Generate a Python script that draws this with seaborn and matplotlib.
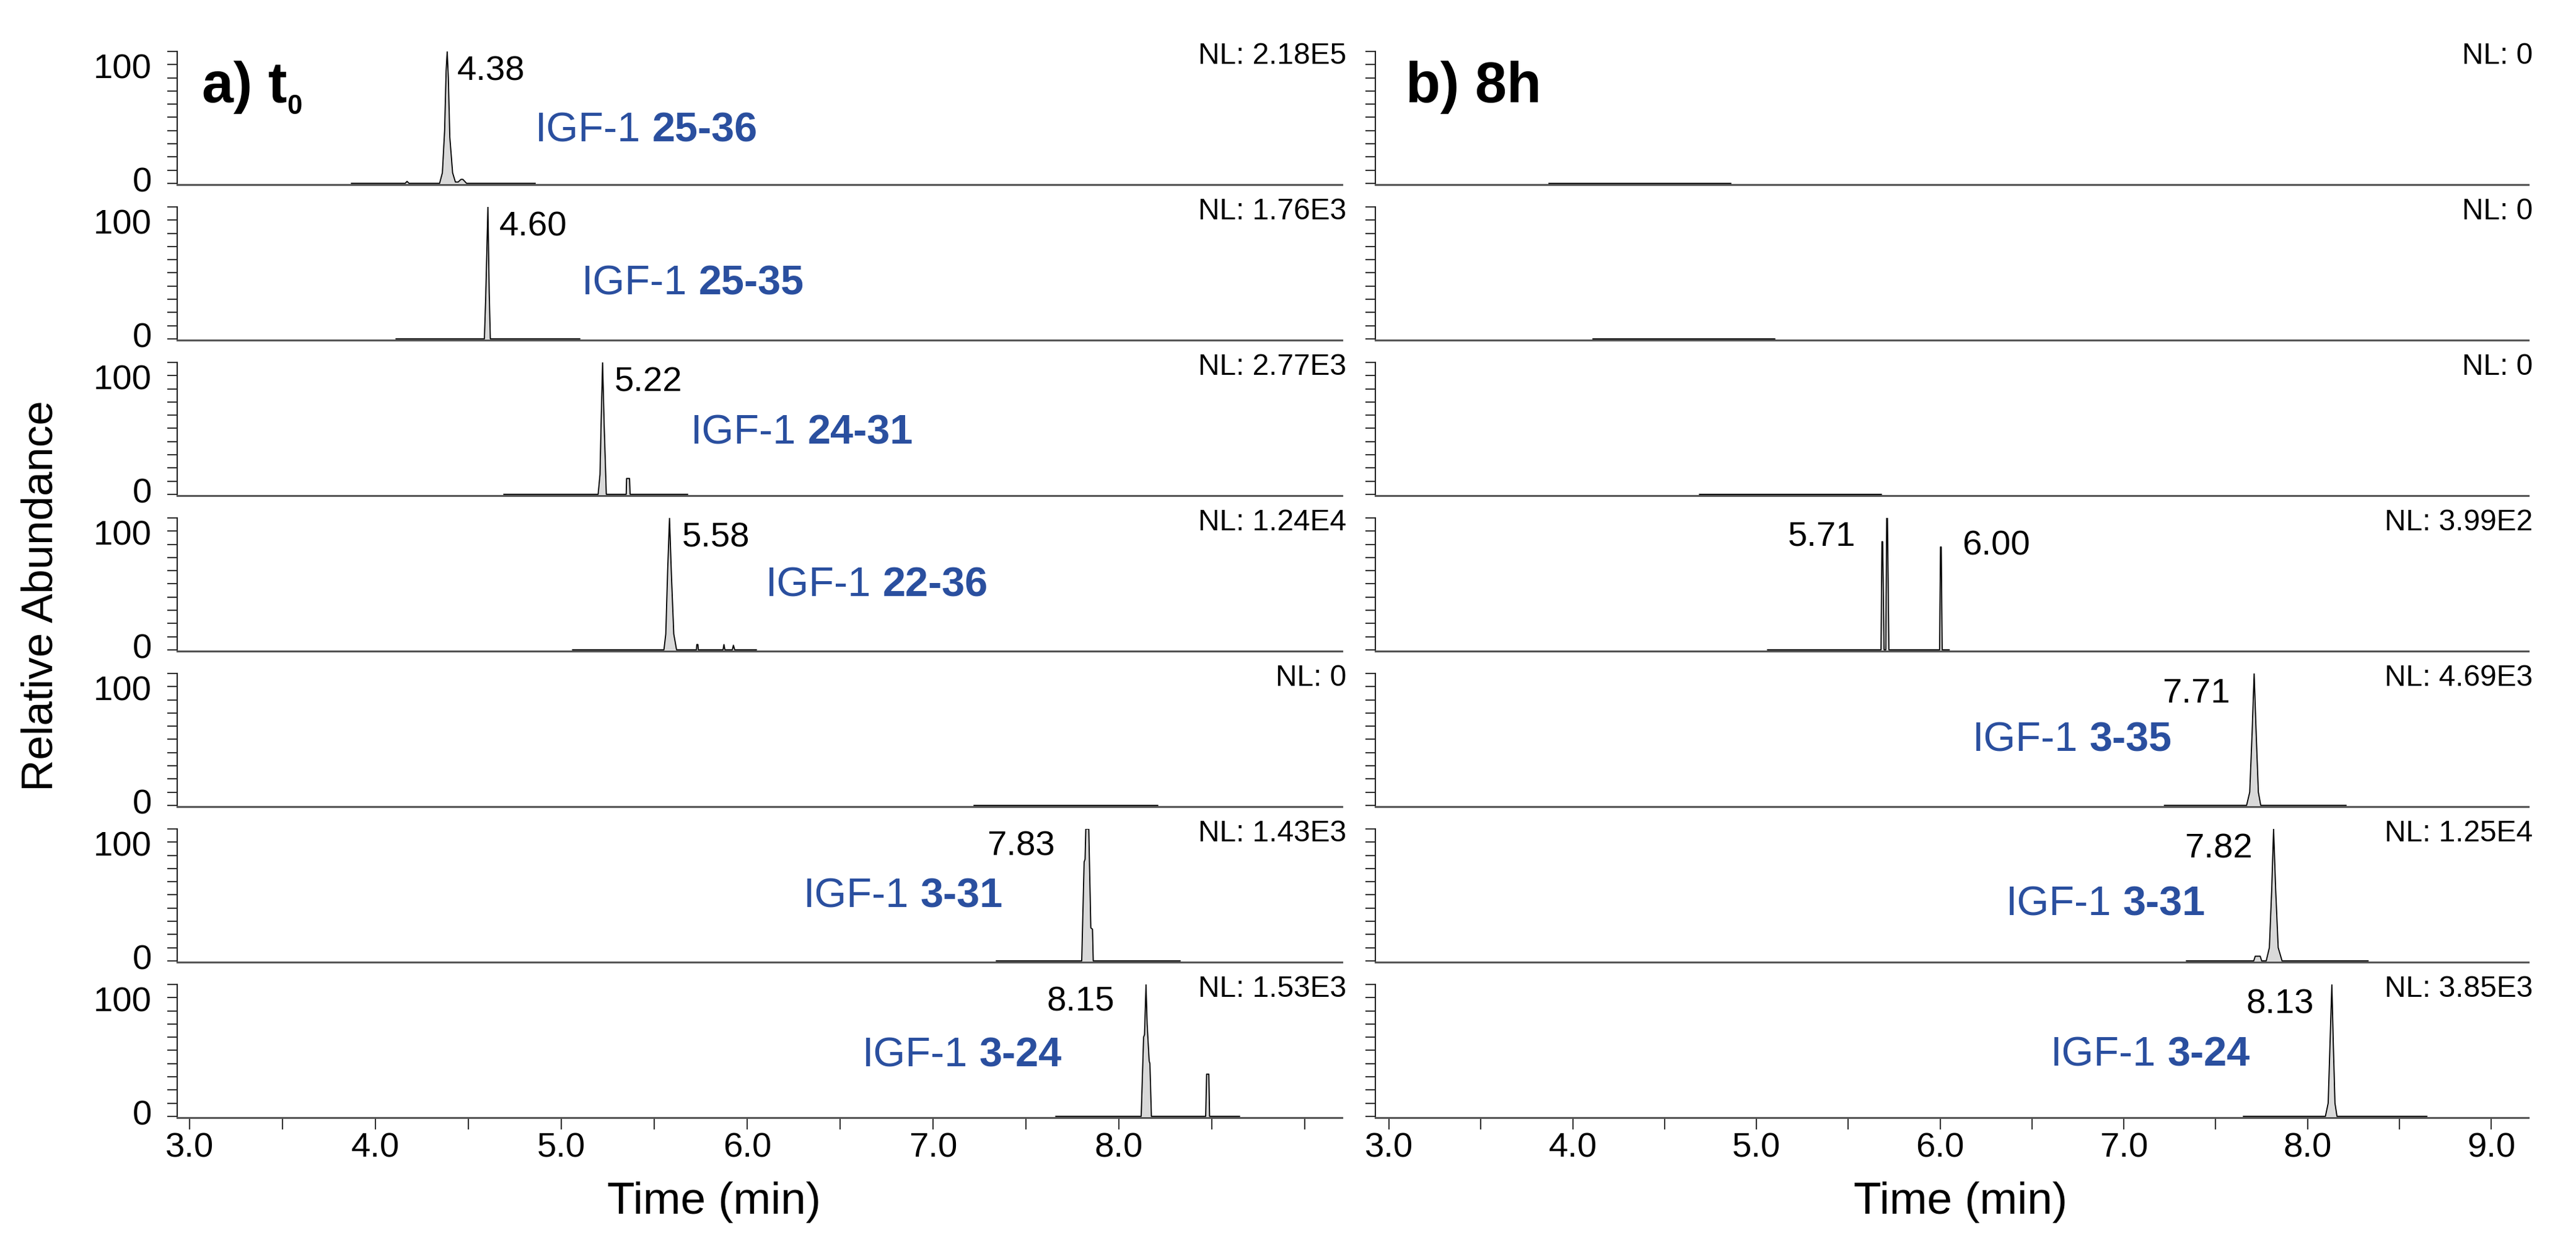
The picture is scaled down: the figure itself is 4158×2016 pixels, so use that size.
import pandas as pd
import seaborn as sns
import matplotlib.pyplot as plt
from matplotlib.ticker import MultipleLocator, FixedLocator, NullLocator, FormatStrFormatter

# Chromatogram traces: retention time (min) and relative abundance (%)
t0_time = [
    [3.87, 4.16, 4.17, 4.18, 4.345, 4.36, 4.372, 4.38, 4.386, 4.392, 4.40, 4.415, 4.43, 4.445, 4.46, 4.47, 4.49, 4.86],
    [4.11, 4.586, 4.593, 4.605, 4.612, 4.618, 5.10],
    [4.69, 5.198, 5.208, 5.215, 5.222, 5.23, 5.242, 5.349, 5.351, 5.367, 5.37, 5.68],
    [5.06, 5.552, 5.562, 5.572, 5.582, 5.592, 5.605, 5.62, 5.727, 5.729, 5.735, 5.737,
     5.87, 5.875, 5.88, 5.92, 5.926, 5.933, 6.05],
    [7.22, 8.21],
    [7.34, 7.80, 7.813, 7.818, 7.822, 7.838, 7.849, 7.858, 7.862, 8.33],
    [7.66, 8.120, 8.133, 8.138, 8.146, 8.152, 8.163, 8.167, 8.175, 8.467, 8.472, 8.484, 8.488, 8.65],
]
t0_abund = [
    [0, 0, 1.5, 0, 0, 8, 40, 85, 100, 80, 35, 8, 1, 1, 3, 3, 0, 0],
    [0, 0, 31, 100, 35, 0, 0],
    [0, 0, 15, 60, 100, 55, 0, 0, 12, 12, 0, 0],
    [0, 0, 12, 60, 100, 58, 12, 0, 0, 4, 4, 0, 0, 4, 0, 0, 3.5, 0, 0],
    [0, 0],
    [0, 0, 75, 77, 100, 100, 25, 24, 0, 0],
    [0, 0, 60, 62, 100, 70, 42, 40, 0, 0, 32, 32, 0, 0],
]
h8_time = [
    [3.87, 4.86],
    [4.11, 5.10],
    [4.69, 5.68],
    [5.06, 5.678, 5.683, 5.687, 5.695, 5.704, 5.709, 5.713, 5.721, 5.997, 6.002, 6.006, 6.011, 6.05],
    [7.22, 7.668, 7.685, 7.698, 7.709, 7.72, 7.732, 7.745, 8.21],
    [7.34, 7.707, 7.715, 7.742, 7.75, 7.775, 7.792, 7.805, 7.815, 7.826, 7.84, 7.861, 8.33],
    [7.65, 8.097, 8.112, 8.122, 8.132, 8.14, 8.149, 8.16, 8.65],
]
h8_abund = [
    [0, 0],
    [0, 0],
    [0, 0],
    [0, 0, 82, 82, 0, 0, 100, 100, 0, 0, 78, 78, 0, 0],
    [0, 0, 10, 55, 100, 55, 10, 0, 0],
    [0, 0, 3.5, 3.5, 0, 0, 10, 55, 100, 55, 10, 0, 0],
    [0, 0, 10, 55, 100, 55, 10, 0, 0],
]

# normalisation levels and fragment names
t0_nl = ["2.18E5", "1.76E3", "2.77E3", "1.24E4", "0", "1.43E3", "1.53E3"]
h8_nl = ["0", "0", "0", "3.99E2", "4.69E3", "1.25E4", "3.85E3"]
t0_frag = ["25-36", "25-35", "24-31", "22-36", None, "3-31", "3-24"]
h8_frag = [None, None, None, None, "3-35", "3-31", "3-24"]

# retention time labels
t0_rt = [["4.38"], ["4.60"], ["5.22"], ["5.58"], [], ["7.83"], ["8.15"]]
h8_rt = [[], [], [], ["5.71", "6.00"], ["7.71"], ["7.82"], ["8.13"]]

# where the labels go (x in min, y in %, alignment)
t0_rt_pos = [[(4.44, 78, "left")], [(4.667, 78, "left")], [(5.285, 78, "left")], [(5.648, 78, "left")],
             [], [(7.657, 80, "right")], [(7.975, 80, "right")]]
h8_rt_pos = [[], [], [], [(5.54, 79, "right"), (6.12, 72, "left")], [(7.578, 78, "right")],
             [(7.70, 78, "right")], [(8.033, 78, "right")]]
t0_frag_pos = [(4.86, 0.323), (5.11, 0.342), (5.695, 0.39), (6.099, 0.41), None, (6.303, 0.41), (6.62, 0.385)]
h8_frag_pos = [None, None, None, None, (6.177, 0.414), (6.359, 0.349), (6.60, 0.39)]

BLUE = "#2a4f9f"

sns.set_style("ticks")
plt.rcParams['font.family'] = ['Liberation Sans', 'DejaVu Sans']
plt.rcParams['text.color'] = 'black'
plt.rcParams['xtick.labelcolor'] = 'black'
plt.rcParams['ytick.labelcolor'] = 'black'

W, H = 4158, 2016
fig = plt.figure(figsize=(W / 300, H / 300), dpi=300)

columns = [
    dict(x0=286, x1=2166, xlim=(2.933, 9.2), times=t0_time, abund=t0_abund, nl=t0_nl,
         frag=t0_frag, frag_pos=t0_frag_pos, rt=t0_rt, rt_pos=t0_rt_pos,
         xticks=[3, 4, 5, 6, 7, 8], ylabels=True),
    dict(x0=2219.5, x1=4080.6, xlim=(2.924, 9.2), times=h8_time, abund=h8_abund, nl=h8_nl,
         frag=h8_frag, frag_pos=h8_frag_pos, rt=h8_rt, rt_pos=h8_rt_pos,
         xticks=[3, 4, 5, 6, 7, 8, 9], ylabels=False),
]

panel_axes = []
for c, col in enumerate(columns):
    col_axes = []
    for k in range(7):
        bottom = 298 + 251 * k
        ax = fig.add_axes([col["x0"] / W, 1 - bottom / H, (col["x1"] - col["x0"]) / W, 215 / H])
        df = pd.DataFrame({"time": col["times"][k], "abund": col["abund"][k]})
        ax.fill_between(df["time"], 0, df["abund"], color="#d9d9d9", lw=0)
        sns.lineplot(data=df, x="time", y="abund", ax=ax, color="black", lw=0.45,
                     estimator=None, sort=False)
        ax.set(xlabel="", ylabel="", xlim=col["xlim"], ylim=(-1, 100))
        sns.despine(ax=ax)
        ax.spines["left"].set_linewidth(0.5)
        ax.spines["left"].set_color("#222222")
        ax.spines["bottom"].set_linewidth(0.75)
        ax.spines["bottom"].set_color("#555555")

        # y ticks: small marks every 10 %, labels 0 / 100 on the left column
        ax.yaxis.set_minor_locator(MultipleLocator(10))
        if col["ylabels"]:
            ax.yaxis.set_major_locator(FixedLocator([3, 89]))
            ax.set_yticklabels(["0", "100"])
        else:
            ax.yaxis.set_major_locator(NullLocator())
        ax.tick_params(axis="y", which="major", length=0, pad=9.8, labelsize=13.5, labelcolor="black")
        ax.tick_params(axis="y", which="minor", length=3.84, width=0.5, color="#333333")

        # x ticks only on the bottom row
        if k == 6:
            ax.xaxis.set_major_locator(FixedLocator(col["xticks"]))
            ax.xaxis.set_major_formatter(FormatStrFormatter("%.1f"))
            ax.xaxis.set_minor_locator(MultipleLocator(0.5))
            ax.tick_params(axis="x", which="both", length=4.56, width=0.5, color="#333333",
                           direction="out", labelsize=13.5, pad=1, labelcolor="black")
        else:
            ax.tick_params(axis="x", which="both", bottom=False, labelbottom=False)

        ax.text(1.004, 0.905, "NL: " + col["nl"][k], transform=ax.transAxes,
                ha="right", va="baseline", fontsize=11.5, color="black")

        for txt, (px, py, ha) in zip(col["rt"][k], col["rt_pos"][k]):
            ax.text(px, py, txt, ha=ha, va="baseline", fontsize=13.5, color="black")

        if col["frag"][k] is not None:
            fx, fy = col["frag_pos"][k]
            t1 = ax.text(fx, fy, "IGF-1", transform=ax.get_xaxis_transform(),
                         color=BLUE, fontsize=16, va="baseline", ha="left")
            ax.annotate(col["frag"][k], xy=(1, 0), xycoords=t1, xytext=(4.4, 0),
                        textcoords="offset points", va="bottom", ha="left",
                        color=BLUE, fontsize=16, fontweight="bold")
        col_axes.append(ax)
    panel_axes.append(col_axes)

# panel titles
ta = panel_axes[0][0].text(0.0213, 0.62, "a) t", transform=panel_axes[0][0].transAxes,
                           fontsize=22, fontweight="bold", va="baseline", color="black")
panel_axes[0][0].annotate("0", xy=(1, 0), xycoords=ta, va="baseline", ha="left",
                          fontsize=10.5, fontweight="bold", color="black")
panel_axes[1][0].text(0.0266, 0.62, "b) 8h", transform=panel_axes[1][0].transAxes,
                      fontsize=22, fontweight="bold", va="baseline", color="black")

fig.text(67 / W, 1 - 962 / H, "Relative Abundance", rotation=90, ha="center", va="center",
         fontsize=17, color="black")
fig.text(1153 / W, 1 - 1941 / H, "Time (min)", ha="center", va="center", fontsize=17.5, color="black")
fig.text(3165 / W, 1 - 1941 / H, "Time (min)", ha="center", va="center", fontsize=17.5, color="black")

fig.savefig("out.png", dpi=300)
plt.close(fig)
